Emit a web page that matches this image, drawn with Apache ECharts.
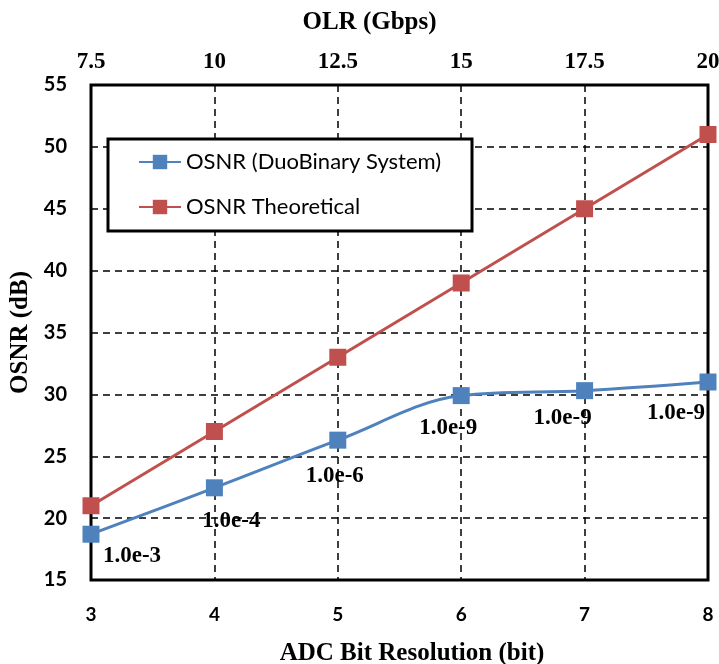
<!DOCTYPE html>
<html>
<head>
<meta charset="utf-8">
<script src="https://cdn.jsdelivr.net/npm/echarts@6/dist/echarts.min.js"></script>
<style>
  html, body { margin: 0; padding: 0; background: #fff; }
  #chart { width: 719px; height: 664px; }
</style>
</head>
<body>
<div id="chart"></div>
<script>
// ADC bit resolution (bottom axis) and the matching optical line rate (top axis)
const adcBits = [3, 4, 5, 6, 7, 8];
const olrTicks = [7.5, 10, 12.5, 15, 17.5, 20];
const osnrTicks = [15, 20, 25, 30, 35, 40, 45, 50, 55];

// OSNR values in dB
const osnrDuoBinary = [18.7, 22.45, 26.3, 29.9, 30.3, 31.0];
const osnrTheoretical = [21, 27, 33, 39, 45, 51];

// BER reached at each point of the duobinary curve
const berLabels = ['1.0e-3', '1.0e-4', '1.0e-6', '1.0e-9', '1.0e-9', '1.0e-9'];

// where each BER label sits relative to its marker (px)
const berLabelOffsets = [[41, 22], [17, 33], [-3, 36], [-13, 32], [-22, 27], [-32, 31]];

const serif = '"Liberation Serif", "Times New Roman", serif';
const sans = 'Lato, "Open Sans", sans-serif';
const BLUE = '#4F81BD';
const RED = '#C0504D';

const dashed = { show: true, lineStyle: { color: '#000', type: [7, 5], width: 1.5 } };

const chart = echarts.init(document.getElementById('chart'), null, { renderer: 'canvas' });

chart.setOption({
  animation: false,
  backgroundColor: '#fff',
  grid: {
    left: 91, right: 11, top: 85, bottom: 84,
    outerBoundsMode: 'none',
    containLabel: false,
    show: true, borderColor: '#000', borderWidth: 3, backgroundColor: 'transparent'
  },
  xAxis: [
    {
      type: 'value',
      position: 'bottom',
      min: adcBits[0],
      max: adcBits[adcBits.length - 1],
      interval: 1,
      name: 'ADC Bit Resolution (bit)',
      nameLocation: 'middle',
      nameGap: 61,
      nameTextStyle: { fontFamily: serif, fontWeight: 'bold', fontSize: 25, color: '#000', padding: [0, 0, 0, 25] },
      axisLine: { show: false },
      axisTick: { show: false },
      axisLabel: { fontFamily: sans, fontWeight: 'bold', fontSize: 19, color: '#000', margin: 25 },
      splitLine: dashed
    },
    {
      type: 'value',
      position: 'top',
      min: olrTicks[0],
      max: olrTicks[olrTicks.length - 1],
      interval: olrTicks[1] - olrTicks[0],
      name: 'OLR (Gbps)',
      nameLocation: 'middle',
      nameGap: 50,
      nameTextStyle: { fontFamily: serif, fontWeight: 'bold', fontSize: 25, color: '#000', padding: [0, 60, 0, 0] },
      axisLine: { show: false },
      axisTick: { show: false },
      axisLabel: { fontFamily: serif, fontWeight: 'bold', fontSize: 23, color: '#000', margin: 11 },
      splitLine: { show: false }
    }
  ],
  yAxis: {
    type: 'value',
    min: osnrTicks[0],
    max: osnrTicks[osnrTicks.length - 1],
    interval: osnrTicks[1] - osnrTicks[0],
    name: 'OSNR (dB)',
    nameLocation: 'middle',
    nameRotate: 90,
    nameGap: 53,
    nameTextStyle: { fontFamily: serif, fontWeight: 'bold', fontSize: 25, color: '#000' },
    axisLine: { show: false },
    axisTick: { show: false },
    axisLabel: { fontFamily: sans, fontWeight: 'bold', fontSize: 20, color: '#000', margin: 24 },
    splitLine: dashed
  },
  graphic: [
    {
      type: 'rect',
      z: 3,
      shape: { x: 108, y: 139, width: 364, height: 92 },
      style: { fill: '#fff', stroke: '#000', lineWidth: 3 }
    }
  ],
  legend: {
    orient: 'vertical',
    left: 138,
    top: 150,
    padding: 0,
    itemGap: 21,
    itemWidth: 42,
    itemHeight: 18,
    z: 5,
    textStyle: { fontFamily: sans, fontSize: 22, color: '#000', lineHeight: 24 },
    data: ['OSNR (DuoBinary System)', 'OSNR Theoretical']
  },
  series: [
    {
      name: 'OSNR (DuoBinary System)',
      type: 'line',
      xAxisIndex: 0,
      smooth: 0.35,
      symbol: 'rect',
      symbolSize: 17,
      z: 4,
      itemStyle: { color: BLUE },
      lineStyle: { color: BLUE, width: 3 },
      data: adcBits.map((x, i) => ({
        value: [x, osnrDuoBinary[i]],
        label: {
          show: true,
          position: 'inside',
          offset: berLabelOffsets[i],
          formatter: berLabels[i],
          fontFamily: serif,
          fontWeight: 'bold',
          fontSize: 23,
          color: '#000'
        }
      }))
    },
    {
      name: 'OSNR Theoretical',
      type: 'line',
      xAxisIndex: 0,
      symbol: 'rect',
      symbolSize: 17,
      z: 4,
      itemStyle: { color: RED },
      lineStyle: { color: RED, width: 3 },
      data: adcBits.map((x, i) => [x, osnrTheoretical[i]])
    }
  ]
});
</script>
</body>
</html>
